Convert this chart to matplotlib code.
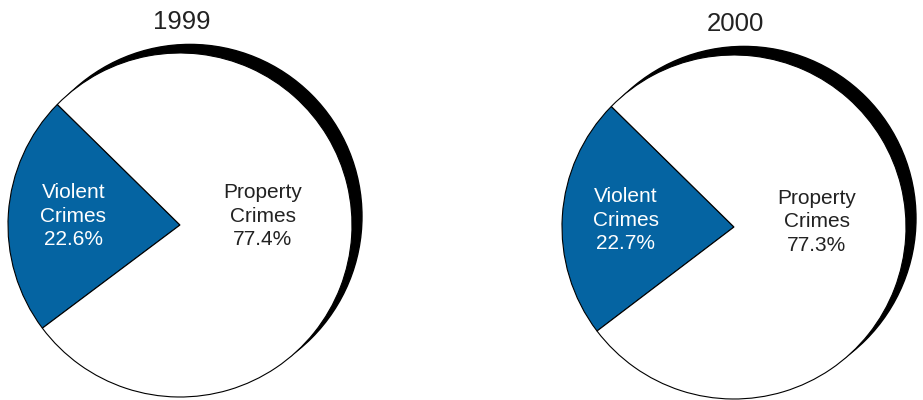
import matplotlib.pyplot as plt
from matplotlib.patches import Circle

plt.rcParams['font.family'] = ['Liberation Sans', 'DejaVu Sans']

# data
years = ["1999", "2000"]
categories = ["Violent\nCrimes", "Property\nCrimes"]
violent_pct = [22.6, 22.7]
property_pct = [77.4, 77.3]

BLUE = "#0564A2"
W, H = 923, 400

# pie centres and radius in pixels (layout only)
centers = [(180, 225), (734, 227)]
R = 172
LIM = 1.25

fig = plt.figure(figsize=(W / 100, H / 100), dpi=100)

label_pos = [[(-0.62, 0.05), (0.48, 0.05)],
             [(-0.63, 0.04), (0.48, 0.03)]]

for i, year in enumerate(years):
    cx, cy = centers[i]
    half = R * LIM
    ax = fig.add_axes([(cx - half) / W, (H - cy - half) / H, 2 * half / W, 2 * half / H])

    # black drop shadow behind the pie
    ax.add_patch(Circle((0.058, 0.05), 1.0, facecolor='black', edgecolor='black', zorder=0))

    vals = [violent_pct[i], property_pct[i]]
    ax.pie(vals, colors=[BLUE, 'white'], startangle=135.5, counterclock=True,
           radius=1.0, wedgeprops=dict(edgecolor='black', linewidth=0.8),
           frame=True)
    ax.set_xlim(-LIM, LIM)
    ax.set_ylim(-LIM, LIM)
    ax.set_aspect('equal')
    ax.axis('off')

    for j, (cat, v) in enumerate(zip(categories, vals)):
        x, y = label_pos[i][j]
        ax.text(x, y, f"{cat}\n{v:.1f}%", ha='center', va='center',
                fontsize=15, color='white' if j == 0 else '#222222',
                linespacing=1.3, zorder=5)

    ax.text(0.01, 1.18, year, ha='center', va='center', fontsize=18.5, color='#222222')

fig.savefig("out.png", dpi=100, facecolor='white')
